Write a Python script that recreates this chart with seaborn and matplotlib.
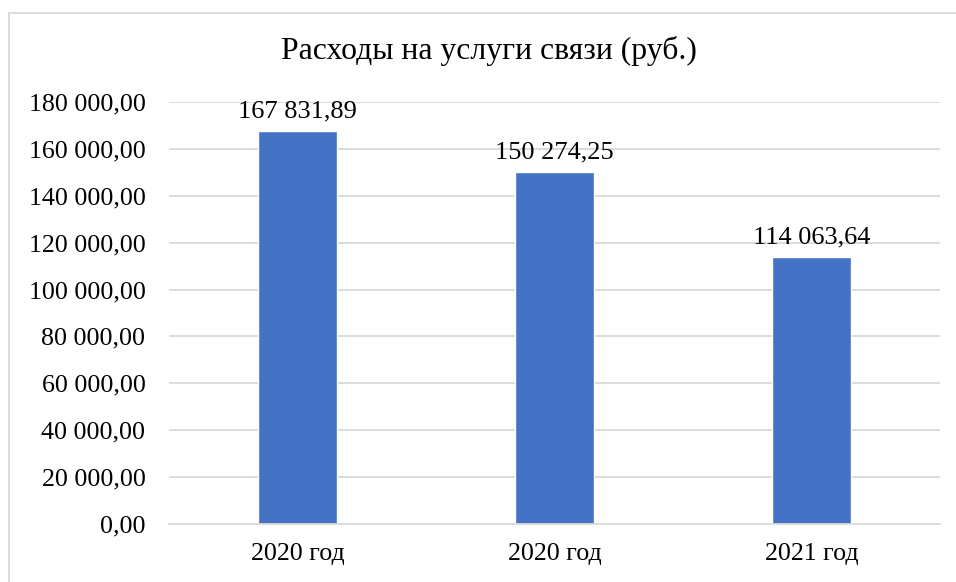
import numpy as np
import pandas as pd
import seaborn as sns
from matplotlib import pyplot as plt
from matplotlib.patches import Rectangle
from matplotlib.ticker import FuncFormatter

categories = ['2020 год', '2020 год', '2021 год']
values = [167831.89, 150274.25, 114063.64]
yticks = [0, 20000, 40000, 60000, 80000, 100000, 120000, 140000, 160000, 180000]
title = 'Расходы на услуги связи (руб.)'


def rub(v, pos=None):
    s = '{:,.2f}'.format(v)
    return s.replace(',', ' ').replace('.', ',')


sns.set_style('white')
plt.rcParams['font.family'] = ['Liberation Serif', 'DejaVu Serif']
plt.rcParams['text.color'] = 'black'

# positions keep the two "2020 год" bars apart
df = pd.DataFrame({'pos': [str(i) for i in range(len(values))], 'value': values})

fig = plt.figure(figsize=(9.56, 5.82), dpi=100)
ax = fig.add_axes([0.1768, 0.0997, 0.8065, 0.725])

sns.barplot(data=df, x='pos', y='value', color='#4472C4', saturation=1,
            width=0.31, ax=ax)

ax.set_ylim(0, 180000)
ax.set_yticks(yticks)
ax.yaxis.set_major_formatter(FuncFormatter(rub))
ax.set_xticks(range(len(categories)))
ax.set_xticklabels(categories)
ax.set_xlim(-0.5, len(categories) - 0.5)
ax.set_xlabel('')
ax.set_ylabel('')

ax.grid(axis='y', color='#d9d9d9', linewidth=1.3)
ax.set_axisbelow(True)
for side in ['top', 'right', 'left']:
    ax.spines[side].set_visible(False)
ax.spines['bottom'].set_color('#d9d9d9')
ax.spines['bottom'].set_linewidth(1.3)
ax.tick_params(axis='y', length=0, pad=17, labelsize=18.7, colors='black')
ax.tick_params(axis='x', length=0, pad=14, labelsize=18.7, colors='black')

ax.bar_label(ax.containers[0], labels=[rub(v) for v in values],
             padding=6, fontsize=19, color='black')

fig.text(0.511, 0.913, title, ha='center', va='center', fontsize=22.8,
         color='black')

fig.patches.append(Rectangle((9 / 956, -0.01), 1.0, 1 - 13 / 582 + 0.01,
                             transform=fig.transFigure, fill=False,
                             edgecolor='#d9d9d9', linewidth=1.3))

fig.savefig('out.png', dpi=100)
